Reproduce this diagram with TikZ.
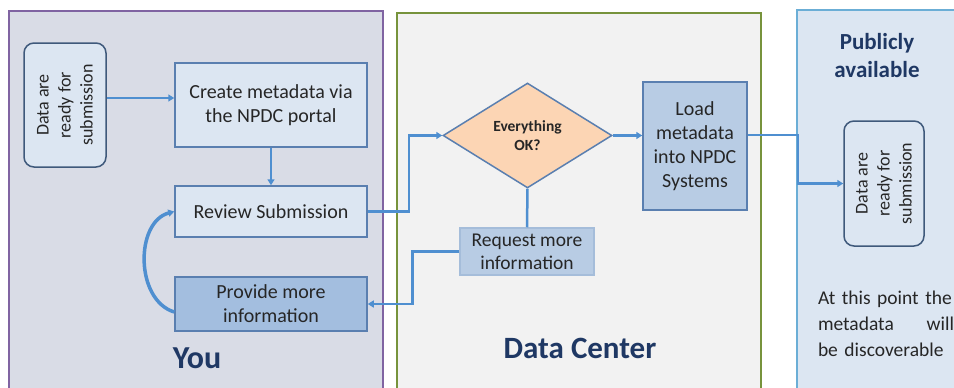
\documentclass[tikz,border=0pt]{standalone}
\usepackage{fontspec}
\setmainfont{Carlito}
\usetikzlibrary{shapes.geometric,arrows.meta,calc}
\definecolor{youfill}{HTML}{D9DCE6}
\definecolor{youline}{HTML}{8064A2}
\definecolor{dcfill}{HTML}{F2F2F2}
\definecolor{dcline}{HTML}{77933C}
\definecolor{pubfill}{HTML}{DCE6F2}
\definecolor{publine}{HTML}{6BAED6}
\definecolor{boxfill}{HTML}{DCE6F2}
\definecolor{boxline}{HTML}{5A7FB0}
\definecolor{midfill}{HTML}{B8CCE4}
\definecolor{darkfill}{HTML}{A3BEDF}
\definecolor{peach}{HTML}{FCD5B4}
\definecolor{arrowc}{HTML}{4F8FD0}
\definecolor{navy}{HTML}{1F3864}
\definecolor{txt}{HTML}{262626}
\tikzset{
  panel/.style={line width=1.5pt},
  box/.style={draw=boxline, line width=1.5pt, fill=boxfill, text=txt, align=center, inner sep=1pt, font=\fontsize{20}{24}\selectfont},
  roundbox/.style={box, rounded corners=10pt, draw=boxline!70!black, font=\fontsize{18}{22}\selectfont},
  arr/.style={draw=arrowc, line width=2.5pt, -{Triangle[length=6pt,width=7pt]}},
  conn/.style={draw=arrowc, line width=2.5pt},
  title/.style={text=navy, font=\bfseries}
}
\begin{document}
\begin{tikzpicture}[x=1pt,y=-1pt]
\useasboundingbox (0,0) rectangle (954,388);
\clip (0,0) rectangle (954,388);
% panels
\path[panel, draw=youline, fill=youfill] (9,11) rectangle (383,400);
\path[panel, draw=dcline, fill=dcfill] (397,13) rectangle (761,400);
\path[panel, draw=publine, fill=pubfill] (797,10) rectangle (970,400);
% nodes
\node[roundbox, minimum width=124pt, minimum height=82pt, rotate=90] (dataL) at (65,105) {Data are\\ready for\\submission};
\node[box, minimum width=192pt, minimum height=84pt] (create) at (271,105) {Create metadata via\\the NPDC portal};
\node[box, minimum width=192pt, minimum height=51pt] (review) at (271,211.5) {Review Submission};
\node[box, fill=darkfill, minimum width=192pt, minimum height=54pt] (provide) at (271,304) {Provide more\\information};
\node[diamond, draw=boxline, line width=1.5pt, fill=peach, text=txt, align=center, inner sep=0pt, minimum width=169pt, minimum height=105pt, font=\bfseries\fontsize{15.5}{19}\selectfont] (ok) at (527.5,135.5) {Everything\\OK?};
\node[box, fill=midfill, minimum width=104pt, minimum height=128pt, font=\fontsize{20}{24}\selectfont] (load) at (695,146) {Load\\metadata\\into NPDC\\Systems};
\node[box, fill=midfill, draw=midfill!80!boxline, minimum width=134pt, minimum height=47pt, font=\fontsize{19.5}{23}\selectfont] (request) at (527,251.5) {Request more\\information};
\node[roundbox, minimum width=125pt, minimum height=80pt, rotate=90] (dataR) at (884,183.5) {Data are\\ready for\\submission};
% titles
\node[title, font=\bfseries\fontsize{32}{36}\selectfont] (you) at (197,358) {You};
\node[title, font=\bfseries\fontsize{31}{34}\selectfont] (dc) at (580,348) {Data Center};
\node[title, align=center, font=\bfseries\fontsize{23}{28}\selectfont] (pub) at (877,56) {Publicly\\available};
\node[text=txt, text width=136pt, align=left, inner sep=0pt, font=\fontsize{19.5}{26}\selectfont] (note) at (886,324) {At this point the\\metadata\hfill will\\be discoverable};
% connectors
\draw[arr] ([yshift=7pt]dataL.south) -- ([yshift=7pt]create.west);
\draw[arr] (create.south) -- (review.north);
\draw[arr] (review.east) -- ++(41,0) |- (ok.west);
\draw[arr] (ok.east) -- (ok.east -| load.west);
\draw[conn] (ok.south) -- (request.north);
\draw[arr] (request.west) -- ++(-47,0) |- (provide.east);
\draw[arr, line width=3.5pt] ([yshift=-8pt]provide.west) .. controls (135,300) and (135,222) .. ([yshift=0pt]review.west);
\draw[arr] ([yshift=11pt]load.east) -- ++(50,0) |- (dataR.north);
\end{tikzpicture}
\end{document}
